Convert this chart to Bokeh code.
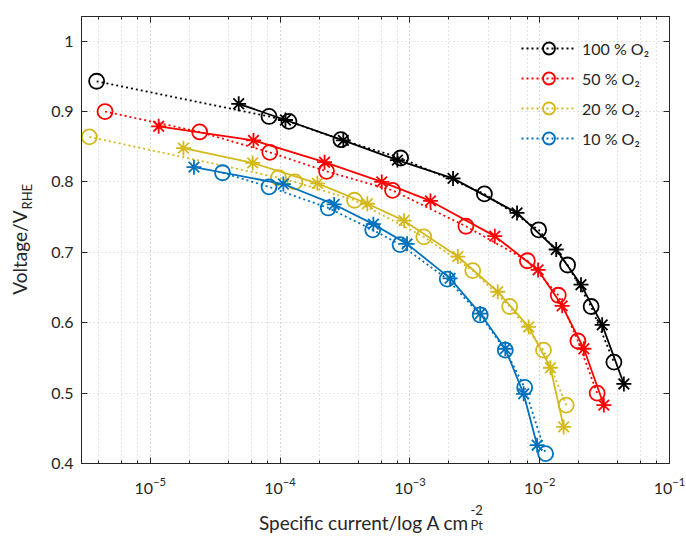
import math
from bokeh.plotting import figure
from bokeh.models import (LinearAxis, LogAxis, FixedTicker, LogTicker, Range1d,
                          Label, Legend, LegendItem, CustomJSTickFormatter)
from bokeh.embed import file_html
from bokeh.resources import INLINE

# ---------------- data ----------------
series_labels = ["100 % O\u2082", "50 % O\u2082", "20 % O\u2082", "10 % O\u2082"]
series_colors = ["#000000", "#FF0000", "#D4B91C", "#0072BD"]

# circles (dotted line)
j100_circ = [3.86e-6, 8.22e-5, 1.17e-4, 2.94e-4, 8.48e-4, 3.75e-3, 9.82e-3, 1.64e-2, 2.49e-2, 3.73e-2]
v100_circ = [0.943, 0.893, 0.886, 0.860, 0.834, 0.783, 0.732, 0.682, 0.623, 0.544]
j50_circ = [4.48e-6, 2.40e-5, 8.33e-5, 2.28e-4, 7.35e-4, 2.70e-3, 8.04e-3, 1.39e-2, 1.97e-2, 2.77e-2]
v50_circ = [0.900, 0.871, 0.842, 0.815, 0.788, 0.737, 0.688, 0.639, 0.574, 0.500]
j20_circ = [3.39e-6, 9.72e-5, 1.30e-4, 3.74e-4, 1.28e-3, 3.05e-3, 5.87e-3, 1.07e-2, 1.60e-2]
v20_circ = [0.864, 0.806, 0.800, 0.774, 0.722, 0.674, 0.623, 0.561, 0.483]
j10_circ = [3.60e-5, 8.22e-5, 2.35e-4, 5.17e-4, 8.40e-4, 1.94e-3, 3.48e-3, 5.43e-3, 7.66e-3, 1.11e-2]
v10_circ = [0.813, 0.793, 0.763, 0.732, 0.711, 0.662, 0.611, 0.561, 0.508, 0.414]

# asterisks (solid line)
j100_star = [4.80e-5, 1.10e-4, 3.07e-4, 8.01e-4, 2.15e-3, 6.69e-3, 1.34e-2, 2.08e-2, 3.03e-2, 4.45e-2]
v100_star = [0.911, 0.888, 0.859, 0.831, 0.805, 0.756, 0.704, 0.654, 0.597, 0.513]
j50_star = [1.16e-5, 6.24e-5, 2.20e-4, 6.07e-4, 1.44e-3, 4.51e-3, 9.72e-3, 1.49e-2, 2.19e-2, 3.12e-2]
v50_star = [0.879, 0.859, 0.828, 0.800, 0.773, 0.723, 0.675, 0.624, 0.563, 0.483]
j20_star = [1.80e-5, 6.15e-5, 1.94e-4, 4.70e-4, 9.02e-4, 2.34e-3, 4.75e-3, 8.22e-3, 1.21e-2, 1.53e-2]
v20_star = [0.848, 0.827, 0.798, 0.769, 0.745, 0.694, 0.644, 0.594, 0.536, 0.452]
j10_star = [2.17e-5, 1.06e-4, 2.61e-4, 5.23e-4, 9.51e-4, 2.04e-3, 3.48e-3, 5.43e-3, 7.52e-3, 9.55e-3]
v10_star = [0.821, 0.797, 0.768, 0.740, 0.712, 0.663, 0.613, 0.563, 0.499, 0.426]

y_ticks = [0.4, 0.5, 0.6, 0.7, 0.8, 0.9, 1.0]

circ_sets = [(j100_circ, v100_circ), (j50_circ, v50_circ), (j20_circ, v20_circ), (j10_circ, v10_circ)]
star_sets = [(j100_star, v100_star), (j50_star, v50_star), (j20_star, v20_star), (j10_star, v10_star)]

FONT = "Lato"
AX = "#262626"

p = figure(width=686, height=534, x_axis_type="log",
           x_range=Range1d(10 ** -5.53, 0.1), y_range=Range1d(0.4, 1.035),
           output_backend="svg", toolbar_location=None,
           min_border_left=81, min_border_right=17, min_border_top=16, min_border_bottom=71)
p.background_fill_color = "white"
p.border_fill_color = "white"
p.outline_line_color = AX

# grids
p.xgrid.grid_line_color = "#c8c8c8"
p.xgrid.grid_line_dash = "1 3"
p.xgrid.minor_grid_line_color = "#c8c8c8"
p.xgrid.minor_grid_line_dash = "1 3"
p.ygrid.grid_line_color = "#c8c8c8"
p.ygrid.grid_line_dash = "1 3"
p.ygrid.ticker = FixedTicker(ticks=y_ticks)

# bottom axis
xa = p.xaxis[0]
xa.ticker = LogTicker()
xa.major_tick_in = 6
xa.major_tick_out = 0
xa.minor_tick_in = 3
xa.minor_tick_out = 0
xa.axis_line_color = AX
xa.major_tick_line_color = AX
xa.minor_tick_line_color = AX
xa.major_label_text_font = FONT
xa.major_label_text_font_size = "16px"
xa.major_label_text_color = AX
xa.major_label_standoff = 14

# left axis
ya = p.yaxis[0]
ya.ticker = FixedTicker(ticks=y_ticks)
ya.major_label_overrides = {1: "1"}
ya.major_tick_in = 6
ya.major_tick_out = 0
ya.minor_tick_in = 0
ya.minor_tick_out = 0
ya.axis_line_color = AX
ya.major_tick_line_color = AX
ya.major_label_text_font = FONT
ya.major_label_text_font_size = "16px"
ya.major_label_text_color = AX
ya.major_label_standoff = 8

# mirrored axes (box), labels suppressed
top = LogAxis(ticker=LogTicker(), formatter=CustomJSTickFormatter(code="return ''"),
              major_tick_in=6, major_tick_out=0, minor_tick_in=3, minor_tick_out=0,
              major_label_text_font_size="1px", major_label_standoff=0,
              axis_line_color=AX, major_tick_line_color=AX, minor_tick_line_color=AX)
p.add_layout(top, "above")
right = LinearAxis(ticker=FixedTicker(ticks=y_ticks), formatter=CustomJSTickFormatter(code="return ''"),
                   major_tick_in=6, major_tick_out=0, minor_tick_in=0, minor_tick_out=0,
                   major_label_text_font_size="1px", major_label_standoff=0,
                   axis_line_color=AX, major_tick_line_color=AX)
p.add_layout(right, "right")

# data
items = []
for (jc, vc), (js, vs), col, lab in zip(circ_sets, star_sets, series_colors, series_labels):
    ld = p.line(jc, vc, line_color=col, line_width=1.8, line_dash="2 3")
    cr = p.scatter(jc, vc, marker="circle", size=15, fill_color=None, line_color=col, line_width=1.8)
    p.line(js, vs, line_color=col, line_width=1.8)
    p.scatter(js, vs, marker="asterisk", size=15, line_color=col, line_width=1.8)
    items.append(LegendItem(label=lab, renderers=[ld, cr]))

legend = Legend(items=items, location=(440, 310), glyph_width=55, glyph_height=30, label_height=30,
                spacing=0, padding=0, margin=0, label_standoff=6,
                label_text_font=FONT, label_text_font_size="16px", label_text_color=AX,
                border_line_color=None, background_fill_alpha=0)
p.add_layout(legend, "center")

# axis titles built from text pieces (with sub/superscripts), placed in side panels
def lab(text, x, y, size, align, angle=0.0, lh=1.2):
    return Label(x=x, y=y, x_units="screen", y_units="screen", text=text, angle=angle,
                 text_align=align, text_baseline="alphabetic", text_font=FONT,
                 text_font_size=size, text_color=AX, text_line_height=lh)

p.add_layout(lab("Specific current/log A cm", 388, -3, "19px", "right"), "below")
p.add_layout(lab("-2\nPt", -199, -54, "13px", "left", lh=0.95), "right")
p.add_layout(lab("Voltage/V", -6, 253, "19px", "right", math.pi / 2), "left")
p.add_layout(lab("RHE", 17, 254, "13px", "left", math.pi / 2), "left")

open("out.html", "w").write(file_html(p, INLINE))
